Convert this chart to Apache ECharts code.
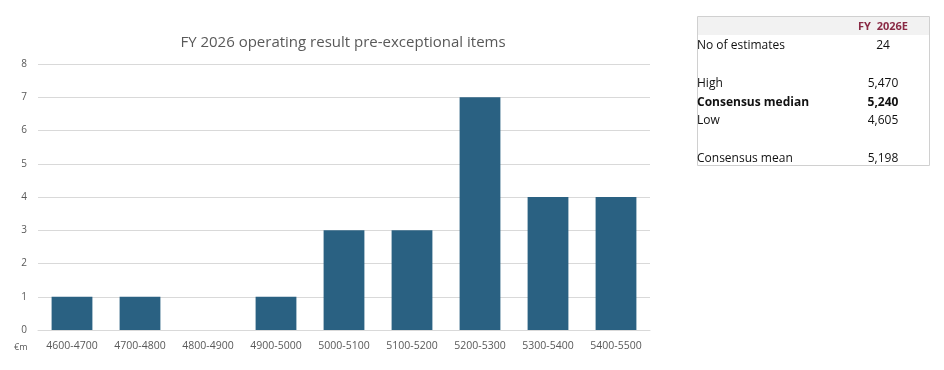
<!DOCTYPE html>
<html><head><meta charset="utf-8">
<script src="https://cdn.jsdelivr.net/npm/echarts@6/dist/echarts.min.js"></script>
<style>html,body{margin:0;padding:0;background:#fff}#c{width:944px;height:370px}</style>
</head><body><div id="c"></div>
<script>
const categories = ['4600-4700','4700-4800','4800-4900','4900-5000','5000-5100','5100-5200','5200-5300','5300-5400','5400-5500'];
const counts = [1,1,0,1,3,3,7,4,4];
const tableHeader = 'FY  2026E';
const tableLabels = ['No of estimates','','High','Consensus median','Low','','Consensus mean'];
const tableValues = ['24','','5,470','5,240','4,605','','5,198'];
const boldRow = 3;

const font = '"Open Sans", "Noto Sans", sans-serif';
const chart = echarts.init(document.getElementById('c'));
const g = [];
g.push({type:'rect', shape:{x:697.5,y:16.5,width:232,height:149}, style:{fill:'#fff',stroke:'#d0d0d0',lineWidth:1}});
g.push({type:'rect', shape:{x:698,y:17,width:231,height:18}, style:{fill:'#f2f2f2'}});
g.push({type:'text', x:883, y:26.5, style:{text:tableHeader, fill:'#8a2a45', font:'bold 11px '+font, align:'center', verticalAlign:'middle'}});
tableLabels.forEach((l,i)=>{
  const y = 46 + i*18.7;
  if(!l) return;
  const f = (i===boldRow?'bold ':'')+'12px '+font;
  g.push({type:'text', x:697, y:y, style:{text:l, fill:'#111', font:f, align:'left', verticalAlign:'middle'}});
  g.push({type:'text', x:883, y:y, style:{text:tableValues[i], fill:'#111', font:f, align:'center', verticalAlign:'middle'}});
});
g.push({type:'text', x:14, y:347, style:{text:'€m', fill:'#595959', font:'9px '+font, align:'left', verticalAlign:'middle'}});

chart.setOption({
  animation:false,
  title:{text:'FY 2026 operating result pre-exceptional items', left:338, top:30, textAlign:'center',
    textStyle:{color:'#595959', fontSize:15, fontWeight:'normal', fontFamily:font}},
  grid:{left:38, right:294, top:64, bottom:40},
  xAxis:{type:'category', data:categories,
    axisLine:{lineStyle:{color:'#d9d9d9'}}, axisTick:{show:false},
    axisLabel:{color:'#595959', fontSize:10.5, fontFamily:font, margin:11, interval:0}},
  yAxis:{type:'value', min:0, max:8, interval:1,
    axisLine:{show:false}, axisTick:{show:false},
    splitLine:{lineStyle:{color:'#d9d9d9'}},
    axisLabel:{color:'#595959', fontSize:10, fontFamily:font, margin:11}},
  series:[{type:'bar', data:counts, barWidth:'60%', itemStyle:{color:'#2a6182'}}],
  graphic:g
});
</script></body></html>
